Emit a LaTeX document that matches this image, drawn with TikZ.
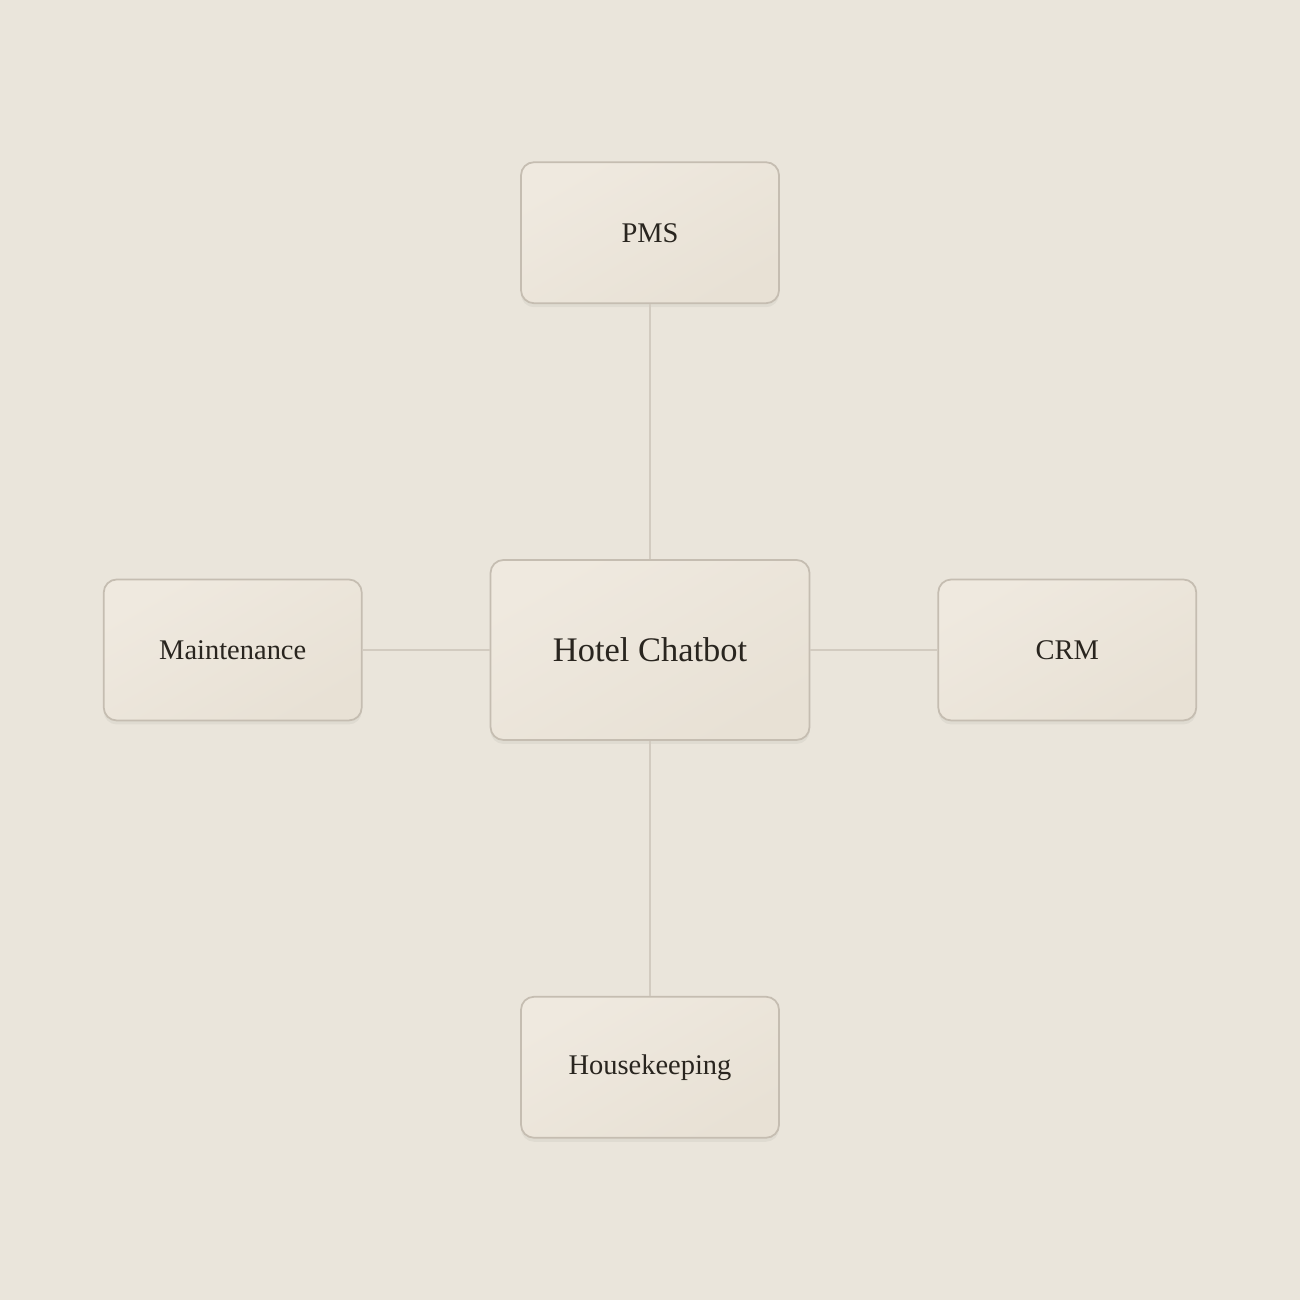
\documentclass[tikz,border=0pt]{standalone}
\usepackage{fontspec}
\setmainfont{Liberation Serif}
\usepackage{xcolor}
\usepackage{tikz}
\usetikzlibrary{positioning}
\usetikzlibrary{shadows}
\definecolor{paperbg}{HTML}{EAE5DB}
\definecolor{cardlight}{HTML}{EFE9DF}
\definecolor{carddark}{HTML}{E8E1D5}
\definecolor{cardedge}{HTML}{C5BDB1}
\definecolor{linkgray}{HTML}{D2CBC0}
\definecolor{inkdark}{HTML}{29251F}

\begin{document}
\begin{tikzpicture}[
        card/.style={draw=cardedge, line width=0.5pt, rounded corners=1.3mm,
            top color=cardlight, bottom color=carddark, shading angle=30,
            text=inkdark, inner sep=0mm,
            drop shadow={shadow xshift=0mm, shadow yshift=-0.4mm, opacity=0.045, fill=black}},
        satcard/.style={card, minimum width=2.58cm, minimum height=1.41cm, font=\fontsize{8.1}{10}\selectfont},
        link/.style={draw=linkgray, line width=0.5pt}]
        \useasboundingbox[fill=paperbg] (0,0) rectangle (13,13);
        \node[card, minimum width=3.19cm, minimum height=1.80cm, font=\fontsize{9.8}{12}\selectfont] at (6.5,6.5) (hub) {Hotel Chatbot};
        \node[satcard, above=2.55cm of hub] (pms) {PMS};
        \node[satcard, below=2.55cm of hub] (housekeeping) {Housekeeping};
        \node[satcard, left=1.27cm of hub] (maintenance) {Maintenance};
        \node[satcard, right=1.27cm of hub] (crm) {CRM};
        \draw[link] (hub.north) -- (pms.south);
        \draw[link] (hub.south) -- (housekeeping.north);
        \draw[link] (hub.west) -- (maintenance.east);
        \draw[link] (hub.east) -- (crm.west);
    \end{tikzpicture}
\end{document}
